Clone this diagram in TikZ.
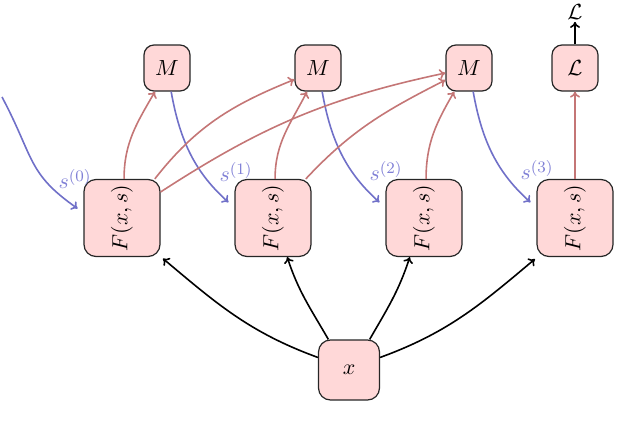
\documentclass[tikz,border=0pt]{standalone}
\usepackage{graphicx}
\usetikzlibrary{arrows.meta}
\definecolor{boxfill}{RGB}{255,216,216}
\definecolor{redline}{RGB}{196,118,118}
\definecolor{blueline}{RGB}{112,112,200}
\definecolor{bluetext}{RGB}{128,128,214}
\begin{document}
\begin{tikzpicture}[x=0.5pt,y=-0.5pt,
  every node/.style={font=\fontsize{11}{13}\selectfont},
  fbox/.style={draw=black!85, fill=boxfill, rounded corners=6pt, minimum width=38pt, minimum height=38.5pt, inner sep=0pt, semithick},
  mbox/.style={draw=black!85, fill=boxfill, rounded corners=5pt, minimum width=23pt, minimum height=23pt, inner sep=0pt, semithick},
  xbox/.style={draw=black!85, fill=boxfill, rounded corners=6pt, minimum width=30.5pt, minimum height=30pt, inner sep=0pt, semithick},
  redarr/.style={draw=redline, thick, -{To[length=3pt,width=5pt]}},
  bluearr/.style={draw=blueline, thick, -{To[length=3pt,width=5pt]}},
  blackarr/.style={draw=black, thick, -{To[length=3pt,width=5pt]}},
  slabel/.style={text=bluetext, inner sep=0pt}]
\useasboundingbox (0,0) rectangle (640,428);
% F boxes
\node[fbox] (F0) at (122,218) {\rotatebox{90}{$F(x,s)$}};
\node[fbox] (F1) at (273,218) {\rotatebox{90}{$F(x,s)$}};
\node[fbox] (F2) at (424,218) {\rotatebox{90}{$F(x,s)$}};
\node[fbox] (F3) at (575,218) {\rotatebox{90}{$F(x,s)$}};
% M boxes
\node[mbox] (M0) at (167,68) {$M$};
\node[mbox] (M1) at (318,68) {$M$};
\node[mbox] (M2) at (469,68) {$M$};
\node[mbox] (L) at (575,68) {$\mathcal{L}$};
\node[inner sep=1pt] (Lout) at (575,12) {$\mathcal{L}$};
% x box
\node[xbox] (X) at (349,370) {$x$};
% labels
\node[slabel] (s0) at (75,179) {$s^{(0)}$};
\node[slabel] (s1) at (236,172) {$s^{(1)}$};
\node[slabel] (s2) at (386,171) {$s^{(2)}$};
\node[slabel] (s3) at (537,170) {$s^{(3)}$};
\coordinate (in0) at (2,97);
% blue state arrows
\draw[bluearr, shorten >=3.5pt] (in0) to[out=-62,in=145,looseness=1.25] (F0.172);
\draw[bluearr, shorten >=4pt] (M0.280) to[out=-80,in=138] (F1.165);
\draw[bluearr, shorten >=4pt] (M1.280) to[out=-80,in=138] (F2.165);
\draw[bluearr, shorten >=4pt] (M2.280) to[out=-80,in=138] (F3.165);
% red arrows
\draw[redarr] (F0.87) to[out=90,in=-120] (M0.243);
\draw[redarr] (F0.50) to[out=52,in=202] (M1.206);
\draw[redarr] (F0.34) to[out=33,in=192] (M2.192);
\draw[redarr] (F1.87) to[out=90,in=-117] (M1.245);
\draw[redarr] (F1.50) to[out=47,in=207] (M2.207);
\draw[redarr] (F2.87) to[out=90,in=-120] (M2.238);
\draw[redarr] (F3.north) -- (L.south);
% loss output
\draw[blackarr] (L.north) -- (Lout.south);
% x arrows
\draw[blackarr, shorten >=1.5pt] (X.158) to[out=160,in=-40] (F0.-45);
\draw[blackarr] (X.124) to[out=120,in=-72] (F1.-70);
\draw[blackarr] (X.56) to[out=60,in=-108] (F2.-110);
\draw[blackarr, shorten >=1.5pt] (X.22) to[out=20,in=-140] (F3.-134);
\end{tikzpicture}
\end{document}
